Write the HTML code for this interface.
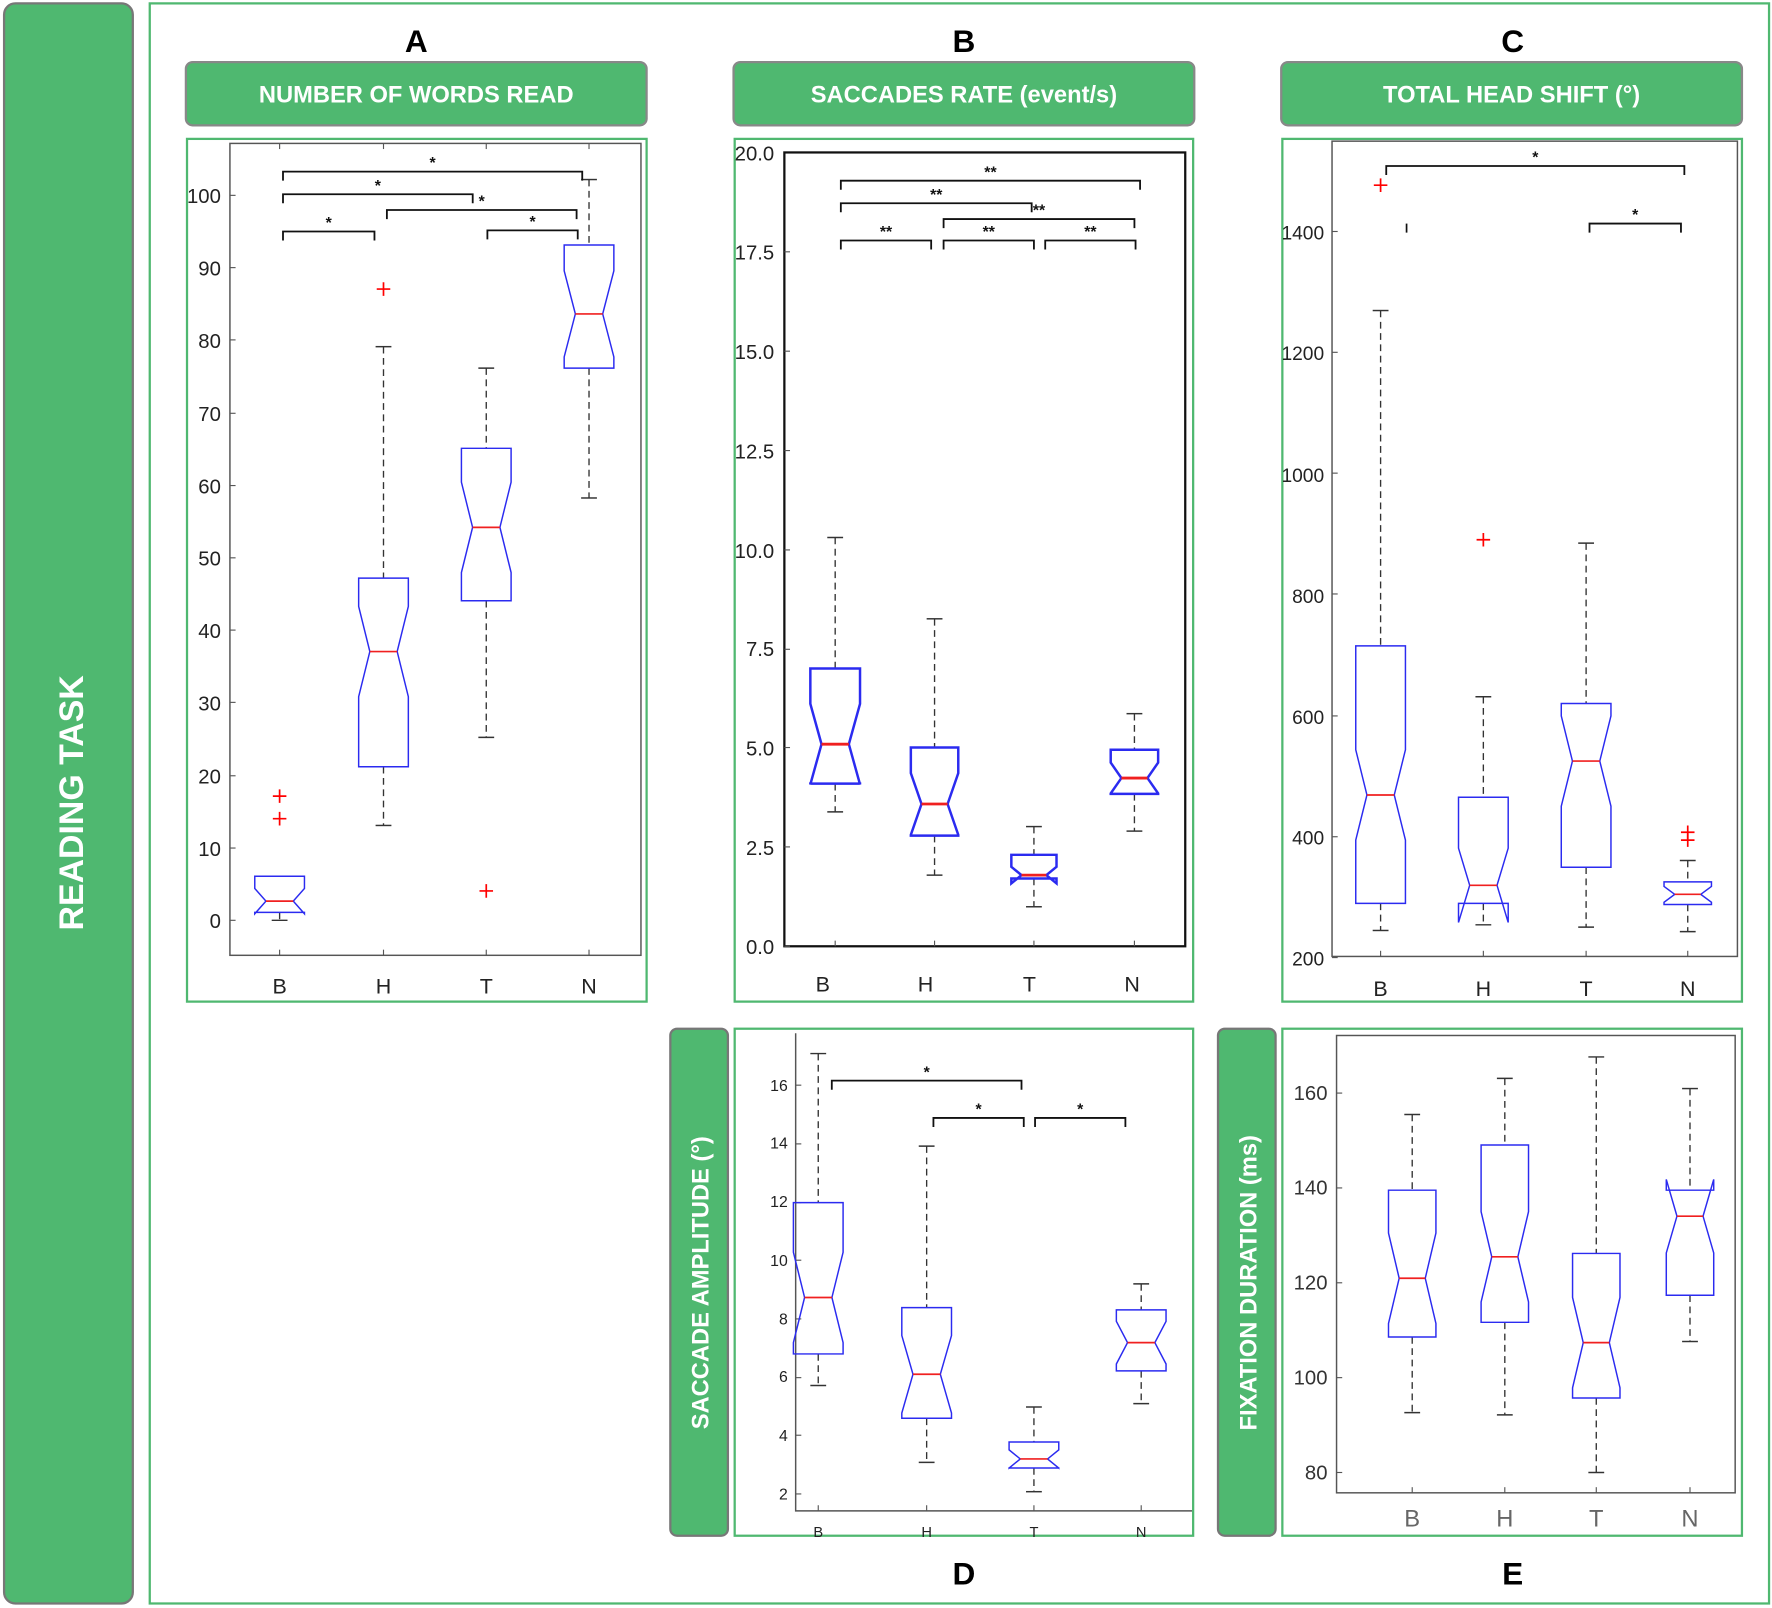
<!DOCTYPE html>
<html><head><meta charset="utf-8"><style>
html,body{margin:0;padding:0;background:#fff}
svg{display:block}
text{font-family:"Liberation Sans",sans-serif}
.hdr{fill:#fff;font-weight:bold;font-size:21px}
.tk{font-family:"Liberation Sans",sans-serif;font-size:18px;fill:#222;font-stretch:condensed}
.let{font-weight:bold;font-size:28px;fill:#000}
</style></head><body>
<svg id="s" width="1772" height="1608" viewBox="0 0 1568 1424" xmlns="http://www.w3.org/2000/svg">
<rect x="0" y="0" width="1568" height="1424" fill="#fff"/>
<rect x="3" y="3" width="114" height="1417" rx="10" fill="#4fb870" stroke="#777" stroke-width="2"/>
<text transform="translate(73,711) rotate(-90)" text-anchor="middle" fill="#fff" font-weight="bold" font-size="30">READING TASK</text>
<rect x="132" y="3" width="1434" height="1417" fill="none" stroke="#4fb870" stroke-width="2"/>
<rect x="164" y="55" width="408" height="56" rx="6" fill="#4fb870" stroke="#888" stroke-width="2"/>
<rect x="649" y="55" width="408" height="56" rx="6" fill="#4fb870" stroke="#888" stroke-width="2"/>
<rect x="1134" y="55" width="408" height="56" rx="6" fill="#4fb870" stroke="#888" stroke-width="2"/>
<text x="368" y="91" text-anchor="middle" class="hdr">NUMBER OF WORDS READ</text>
<text x="853" y="91" text-anchor="middle" class="hdr">SACCADES RATE (event/s)</text>
<text x="1338" y="91" text-anchor="middle" class="hdr">TOTAL HEAD SHIFT (°)</text>
<text x="368" y="46" text-anchor="middle" class="let">A</text>
<text x="853" y="46" text-anchor="middle" class="let">B</text>
<text x="1339" y="46" text-anchor="middle" class="let">C</text>
<text x="853" y="1403" text-anchor="middle" class="let">D</text>
<text x="1339" y="1403" text-anchor="middle" class="let">E</text>
<rect x="165" y="123" width="407" height="764" fill="none" stroke="#4fb870" stroke-width="2"/>
<rect x="650" y="123" width="406" height="764" fill="none" stroke="#4fb870" stroke-width="2"/>
<rect x="1135" y="123" width="407" height="764" fill="none" stroke="#4fb870" stroke-width="2"/>
<rect x="650" y="911" width="406" height="449" fill="none" stroke="#4fb870" stroke-width="2"/>
<rect x="1135" y="911" width="407" height="449" fill="none" stroke="#4fb870" stroke-width="2"/>
<rect x="593" y="911" width="51" height="449" rx="6" fill="#4fb870" stroke="#777" stroke-width="2"/>
<rect x="1078" y="911" width="51" height="449" rx="6" fill="#4fb870" stroke="#777" stroke-width="2"/>
<text transform="translate(627,1136) rotate(-90)" text-anchor="middle" class="hdr">SACCADE AMPLITUDE (°)</text>
<text transform="translate(1112,1136) rotate(-90)" text-anchor="middle" class="hdr">FIXATION DURATION (ms)</text>
<rect x="203" y="127" width="364" height="719" fill="none" stroke="#555" stroke-width="1.3"/>
<rect x="694" y="135" width="355" height="703" fill="none" stroke="#111" stroke-width="2"/>
<rect x="1179" y="125" width="359" height="722" fill="none" stroke="#555" stroke-width="1.3"/>
<path d="M704 915 V1338 H1055" fill="none" stroke="#555" stroke-width="1.3"/>
<rect x="1183" y="917" width="353" height="405" fill="none" stroke="#555" stroke-width="1.3"/>
<g id="g"></g>
<g class="tk" text-anchor="end" style="font-size:18px">
<text x="195" y="822">0</text><text x="195" y="758">10</text><text x="195" y="694">20</text><text x="195" y="629">30</text><text x="195" y="565">40</text><text x="195" y="501">50</text><text x="195" y="437">60</text><text x="195" y="373">70</text><text x="195" y="308">80</text><text x="195" y="244">90</text><text x="195" y="180">100</text>
</g>
<g class="tk" text-anchor="middle" style="font-size:19px"><text x="247" y="880">B</text><text x="339" y="880">H</text><text x="430" y="880">T</text><text x="521" y="880">N</text></g>
<g class="tk" text-anchor="end" style="font-size:18px">
<text x="685" y="845">0.0</text><text x="685" y="757">2.5</text><text x="685" y="669">5.0</text><text x="685" y="581">7.5</text><text x="685" y="494">10.0</text><text x="685" y="406">12.5</text><text x="685" y="318">15.0</text><text x="685" y="230">17.5</text><text x="685" y="142">20.0</text>
</g>
<g class="tk" text-anchor="middle" style="font-size:19px"><text x="728" y="878">B</text><text x="819" y="878">H</text><text x="911" y="878">T</text><text x="1002" y="878">N</text></g>
<g class="tk" text-anchor="end" style="font-size:17px">
<text x="1172" y="855">200</text><text x="1172" y="748">400</text><text x="1172" y="641">600</text><text x="1172" y="534">800</text><text x="1172" y="427">1000</text><text x="1172" y="319">1200</text><text x="1172" y="212">1400</text>
</g>
<g class="tk" text-anchor="middle" style="font-size:19px"><text x="1222" y="882">B</text><text x="1313" y="882">H</text><text x="1404" y="882">T</text><text x="1494" y="882">N</text></g>
<g class="tk" text-anchor="end" style="font-size:14px">
<text x="697" y="1328">2</text><text x="697" y="1276">4</text><text x="697" y="1224">6</text><text x="697" y="1173">8</text><text x="697" y="1121">10</text><text x="697" y="1069">12</text><text x="697" y="1017">14</text><text x="697" y="966">16</text>
</g>
<g class="tk" text-anchor="middle" style="font-size:13px"><text x="724" y="1361">B</text><text x="820" y="1361">H</text><text x="915" y="1361">T</text><text x="1010" y="1361">N</text></g>
<g class="tk" text-anchor="end" style="font-size:18px;fill:#333">
<text x="1175" y="1310">80</text><text x="1175" y="1226">100</text><text x="1175" y="1142">120</text><text x="1175" y="1058">140</text><text x="1175" y="974">160</text>
</g>
<g class="tk" text-anchor="middle" style="font-size:21px;fill:#666"><text x="1250" y="1352">B</text><text x="1332" y="1352">H</text><text x="1413" y="1352">T</text><text x="1496" y="1352">N</text></g>
</svg>
<script>
var g=document.getElementById('g'),NS='http://www.w3.org/2000/svg';
function el(t,a){var e=document.createElementNS(NS,t);for(var k in a)e.setAttribute(k,a[k]);g.appendChild(e);return e;}
function box(x,q1,q3,med,wl,wh,outs,w,sw,msw){
 w=w||22;sw=sw||1.3;msw=msw||1.5;
 var n=Math.min(Math.abs(q1-q3)*0.35,40),d=w*0.45;
 el('line',{x1:x,y1:wh,x2:x,y2:q3,stroke:'#333','stroke-dasharray':'6,4','stroke-width':1.2});
 el('line',{x1:x,y1:q1,x2:x,y2:wl,stroke:'#333','stroke-dasharray':'6,4','stroke-width':1.2});
 el('line',{x1:x-7,y1:wh,x2:x+7,y2:wh,stroke:'#333','stroke-width':1.3});
 el('line',{x1:x-7,y1:wl,x2:x+7,y2:wl,stroke:'#333','stroke-width':1.3});
 var p='M'+(x-w)+' '+q3+' L'+(x+w)+' '+q3+' L'+(x+w)+' '+(med-n)+' L'+(x+w-d)+' '+med+' L'+(x+w)+' '+(med+n)+' L'+(x+w)+' '+q1+' L'+(x-w)+' '+q1+' L'+(x-w)+' '+(med+n)+' L'+(x-w+d)+' '+med+' L'+(x-w)+' '+(med-n)+' Z';
 el('path',{d:p,fill:'none',stroke:'#2b2bf0','stroke-width':sw});
 el('line',{x1:x-w+d,y1:med,x2:x+w-d,y2:med,stroke:'#f02020','stroke-width':msw});
 (outs||[]).forEach(function(o){el('path',{d:'M'+(x-6)+' '+o+'H'+(x+6)+'M'+x+' '+(o-6)+'V'+(o+6),stroke:'#f00','stroke-width':1.5});});
}
function br(x1,x2,y,lab,fs){
 el('path',{d:'M'+x1+' '+(y+8)+'V'+y+'H'+x2+'V'+(y+8),fill:'none',stroke:'#111','stroke-width':1.6});
 var t=el('text',{x:(x1+x2)/2,y:y-3,'text-anchor':'middle','font-size':fs||14,'font-weight':'bold',fill:'#111'});t.textContent=lab;
}
function ticks(xs,y,dir,ys,x,dx){xs.forEach(function(v){el('line',{x1:v,y1:y,x2:v,y2:y+dir*5,stroke:'#555'});});ys.forEach(function(v){el('line',{x1:x,y1:v,x2:x+dx,y2:v,stroke:'#555'});});}
ticks([247,339,430,521],127,1,[815,751,687,622,558,494,430,366,301,237,173],203,5);
ticks([247,339,430,521],846,-1,[],0,0);
box(247,808,776,798,815,776,[725,705]);
box(339,679,512,577,731,307,[256]);
box(430,532,397,467,653,326,[789]);
box(521,326,217,278,441,159,[]);
br(250,515,152,'*');br(250,418,172,'*');br(342,510,186,'*');br(250,331,205,'*');br(431,511,204,'*');
ticks([739,827,915,1004],838,-1,[838,750,662,575,487,399,311,223],694,5);
box(739,694,592,659,719,476,[],22,2.2,2.5);
box(827,740,662,712,775,548,[],21,2.2,2.5);
box(915,778,757,775,803,732,[],20,2.2,2.5);
box(1004,703,664,689,736,632,[],21,2.2,2.5);
br(744,1009,160,'**');br(744,913,180,'**');br(835,1004,194,'**');br(744,824,213,'**');br(835,915,213,'**');br(925,1005,213,'**');
ticks([1222,1313,1404,1494],847,-1,[848,741,634,526,419,312,205],1179,5);
box(1222,800,572,704,824,275,[164]);
box(1313,800,706,784,819,617,[478]);
box(1404,768,623,674,821,481,[]);
box(1494,801,781,792,825,762,[744,737],21);
br(1227,1491,147,'*');br(1407,1488,198,'*');
el('line',{x1:1245,y1:198,x2:1245,y2:206,stroke:'#111','stroke-width':1.5});
ticks([],0,0,[1323,1271,1220,1168,1116,1065,1013,961],704,5);
ticks([724,820,915,1010],1338,-1,[],0,0);
box(724,1199,1065,1149,1227,933,[]);
box(820,1256,1158,1217,1295,1015,[]);
box(915,1300,1277,1292,1321,1246,[]);
box(1010,1214,1160,1189,1243,1137,[]);
br(736,904,957,'*');br(826,906,990,'*');br(916,996,990,'*');
ticks([1250,1332,1413,1496],1322,-1,[1304,1220,1136,1052,968],1183,5);
box(1250,1184,1054,1132,1251,987,[],21);
box(1332,1171,1014,1113,1253,955,[],21);
box(1413,1238,1110,1189,1304,936,[],21);
box(1496,1147,1054,1077,1188,964,[],21);
</script>
</body></html>
